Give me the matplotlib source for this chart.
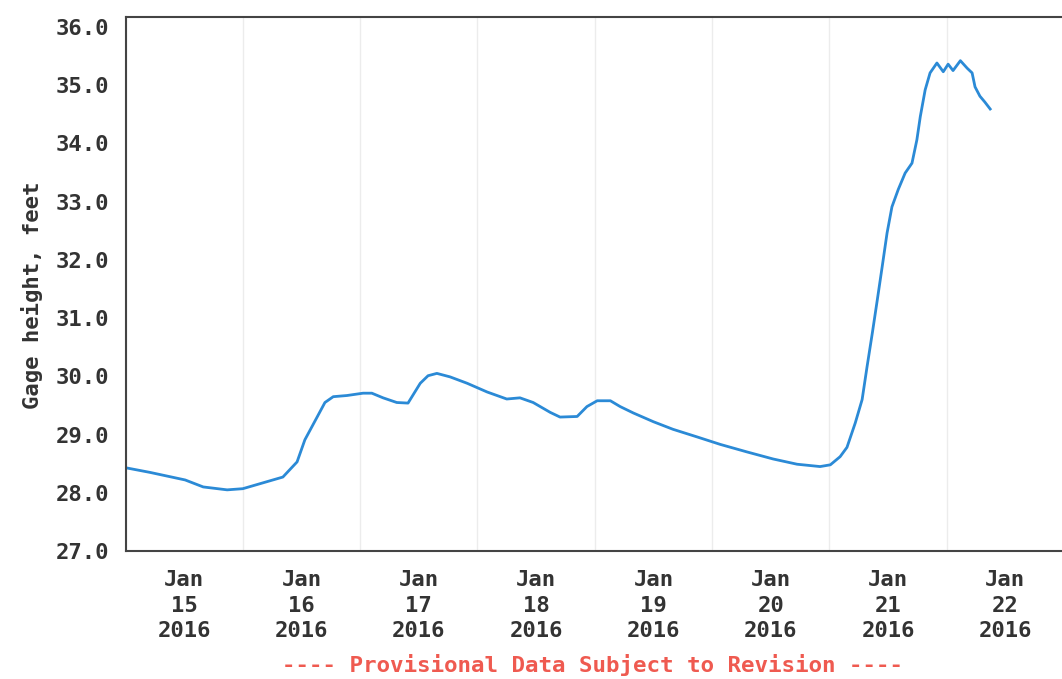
import matplotlib
matplotlib.use("Agg")
import matplotlib.pyplot as plt
import matplotlib.dates as mdates
import numpy as np
import pandas as pd

# hours since 2016-01-15 00:00 and gage height (feet)
horas = [0, 5, 12.2, 15.9, 20.8, 24, 28.1, 32.2, 35.1, 36.7, 39.2, 40.8, 42.5,
         45.3, 48.6, 50.4, 52.7, 55.5, 57.8, 60.3, 61.9, 63.7, 66.4, 69.9, 74,
         78, 80.7, 83.4, 86.9, 88.9, 92.4, 94.4, 96.5, 99.2, 101.2, 103.9, 108,
         112, 116.9, 121.7, 127.2, 132.5, 137.4, 142.1, 144.2, 146.2, 147.6,
         149.3, 150.7, 151.7, 152.8, 153.8, 154.8, 155.8, 156.8, 158.1, 159.5,
         160.9, 161.9, 162.6, 163.6, 164.6, 166.0, 167.3, 168.3, 169.3, 170.8,
         172.2, 173.2, 173.8, 174.8, 175.8, 176.9]
altura = [28.43, 28.35, 28.22, 28.10, 28.05, 28.07, 28.17, 28.27, 28.53, 28.91,
          29.30, 29.55, 29.65, 29.67, 29.71, 29.71, 29.63, 29.55, 29.54, 29.88,
          30.01, 30.05, 29.99, 29.88, 29.73, 29.61, 29.63, 29.55, 29.38, 29.30,
          29.31, 29.48, 29.58, 29.58, 29.48, 29.37, 29.22, 29.09, 28.96, 28.83,
          28.70, 28.58, 28.49, 28.45, 28.48, 28.62, 28.78, 29.20, 29.60, 30.16,
          30.75, 31.31, 31.88, 32.46, 32.91, 33.21, 33.49, 33.66, 34.06, 34.46,
          34.92, 35.21, 35.38, 35.23, 35.36, 35.25, 35.42, 35.29, 35.21, 34.97,
          34.81, 34.71, 34.59]

inicio = pd.Timestamp("2016-01-15 00:00")
fechas = [inicio + pd.Timedelta(hours=h) for h in horas]

etiquetas_dias = [15, 16, 17, 18, 19, 20, 21, 22]

gris = "#333333"
fuente = "DejaVu Sans Mono"
tam = 16

fig = plt.figure(figsize=(10.62, 6.79), dpi=100)
ax = fig.add_axes([125.5 / 1062, 128 / 679, (1064 - 125.5) / 1062, 534 / 679])

ax.plot(fechas, altura, color="#2b8ad6", lw=2)

ax.set_ylim(27, 36.17)
ax.set_yticks(np.arange(27, 37, 1))
ax.set_yticklabels(["%.1f" % v for v in np.arange(27, 37, 1)])
ax.set_xlim(inicio, inicio + pd.Timedelta(days=8))

# etiquetas al mediodia, lineas de grilla a medianoche
ticks = [inicio + pd.Timedelta(days=d - 15, hours=12) for d in etiquetas_dias]
ax.set_xticks(ticks)
ax.set_xticklabels(["Jan\n%d\n2016" % d for d in etiquetas_dias])
ax.xaxis.set_minor_locator(mdates.DayLocator())
ax.grid(False)
ax.grid(which="minor", axis="x", color="#ececec", lw=1)

ax.tick_params(which="both", length=0)
ax.tick_params(axis="x", pad=14, labelsize=tam, colors=gris)
ax.tick_params(axis="y", pad=12, labelsize=tam, colors=gris)
for lab in ax.get_xticklabels() + ax.get_yticklabels():
    lab.set_fontfamily(fuente)
    lab.set_fontweight("bold")
for lab in ax.get_xticklabels():
    lab.set_linespacing(1.32)

for s in ["left", "top", "bottom", "right"]:
    ax.spines[s].set_color("#444444")
    ax.spines[s].set_linewidth(1.5)

fig.text(32 / 1062, 1 - 295 / 679, "Gage height, feet", rotation=90,
         ha="center", va="center", fontsize=tam, fontfamily=fuente,
         fontweight="bold", color=gris)
fig.text(592 / 1062, 1 - 665 / 679, "---- Provisional Data Subject to Revision ----",
         ha="center", va="center", fontsize=16.2, fontfamily=fuente,
         fontweight="bold", color="#ef5a50")

fig.savefig("out.png", dpi=100)
